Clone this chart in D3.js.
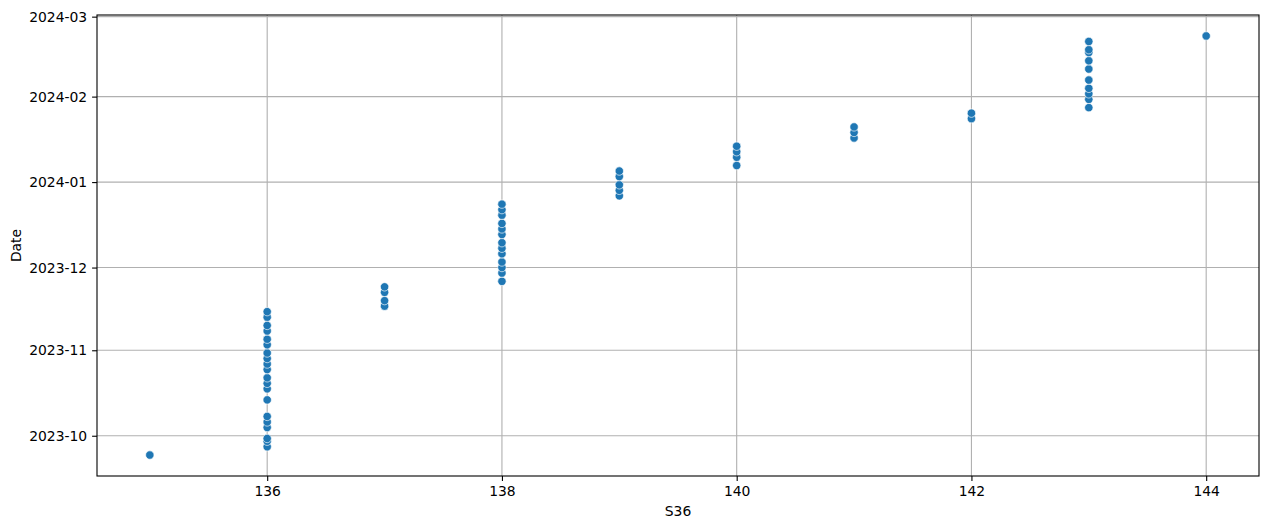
<!DOCTYPE html>
<html>
<head>
<meta charset="utf-8">
<script src="https://cdn.jsdelivr.net/npm/d3@7"></script>
<style>
  body { margin: 0; background: #fff; }
  svg text { font-family: "DejaVu Sans", sans-serif; font-size: 13.9px; fill: #000; }
</style>
</head>
<body>
<svg id="chart" width="1269" height="529"></svg>
<script>
// data: S36 value and matching dates, one list per S36 value
var s36Values = [135, 136, 137, 138, 139, 140, 141, 142, 143, 144];
var datesBySeries = [
    ["2023-09-24"],
    ["2023-09-27", "2023-09-29", "2023-09-30", "2023-10-04", "2023-10-06", "2023-10-08",
     "2023-10-14", "2023-10-18", "2023-10-20", "2023-10-22", "2023-10-25", "2023-10-27",
     "2023-10-29", "2023-10-31", "2023-11-03", "2023-11-05", "2023-11-08", "2023-11-10",
     "2023-11-13", "2023-11-15"],
    ["2023-11-17", "2023-11-19", "2023-11-22", "2023-11-24"],
    ["2023-11-26", "2023-11-29", "2023-12-01", "2023-12-03", "2023-12-06", "2023-12-08",
     "2023-12-10", "2023-12-13", "2023-12-15", "2023-12-17", "2023-12-20", "2023-12-22",
     "2023-12-24"],
    ["2023-12-27", "2023-12-29", "2023-12-31", "2024-01-03", "2024-01-05"],
    ["2024-01-07", "2024-01-10", "2024-01-12", "2024-01-14"],
    ["2024-01-17", "2024-01-19", "2024-01-21"],
    ["2024-01-24", "2024-01-26"],
    ["2024-01-28", "2024-01-31", "2024-02-02", "2024-02-04", "2024-02-07", "2024-02-11",
     "2024-02-14", "2024-02-17", "2024-02-18", "2024-02-21"],
    ["2024-02-23"]
];
var xTicks = [136, 138, 140, 142, 144];

var parseDate = d3.timeParse("%Y-%m-%d");
var points = [];
s36Values.forEach(function(v, i){
    datesBySeries[i].forEach(function(d){
        points.push({s36: v, date: parseDate(d)});
    });
});

// plot box
var boxLeft = 97, boxRight = 1259, boxTop = 15, boxBottom = 476;
var svg = d3.select("#chart");

// scales with matplotlib-like 5% margins
var xExt = d3.extent(points, function(d){ return d.s36; });
var xPad = (xExt[1] - xExt[0]) * 0.05;
var x = d3.scaleLinear()
    .domain([xExt[0] - xPad, xExt[1] + xPad])
    .range([boxLeft, boxRight]);

var yExt = d3.extent(points, function(d){ return d.date; });
var yPad = (yExt[1] - yExt[0]) * 0.05;
var y = d3.scaleTime()
    .domain([new Date(+yExt[0] - yPad), new Date(+yExt[1] + yPad)])
    .range([boxBottom, boxTop]);

var yTicks = d3.timeMonth.range(d3.timeMonth.ceil(y.domain()[0]), new Date(+y.domain()[1] + 1));

// grid
svg.append("g").selectAll("line")
    .data(xTicks)
    .enter()
    .append("line")
    .attr("x1", function(d){ return x(d); })
    .attr("x2", function(d){ return x(d); })
    .attr("y1", boxTop).attr("y2", boxBottom)
    .attr("stroke", "#b0b0b0").attr("stroke-width", 1.1);

svg.append("g").selectAll("line")
    .data(yTicks)
    .enter()
    .append("line")
    .attr("x1", boxLeft).attr("x2", boxRight)
    .attr("y1", function(d){ return y(d); })
    .attr("y2", function(d){ return y(d); })
    .attr("stroke", "#b0b0b0").attr("stroke-width", 1.1);

// axes
var xAxis = d3.axisBottom(x).tickValues(xTicks).tickSize(4.9).tickPadding(4.9).tickFormat(d3.format("d"));
var yAxis = d3.axisLeft(y).tickValues(yTicks).tickSize(4.9).tickPadding(4.9).tickFormat(d3.timeFormat("%Y-%m"));

var gx = svg.append("g").attr("transform", "translate(0," + boxBottom + ")").call(xAxis);
var gy = svg.append("g").attr("transform", "translate(" + boxLeft + ",0)").call(yAxis);
[gx, gy].forEach(function(g){
    g.select(".domain").remove();
    g.selectAll(".tick line").attr("stroke", "#000").attr("stroke-width", 1.1);
    g.selectAll(".tick text").style("font-size", "13.9px").style("font-family", "DejaVu Sans, sans-serif");
});

// points
svg.append("g").selectAll("circle")
    .data(points)
    .enter()
    .append("circle")
    .attr("cx", function(d){ return x(d.s36); })
    .attr("cy", function(d){ return y(d.date); })
    .attr("r", 4.2)
    .attr("fill", "#1f77b4")
    .attr("stroke", "#fff")
    .attr("stroke-width", 0.65);

// frame
svg.append("rect")
    .attr("x", boxLeft).attr("y", boxTop)
    .attr("width", boxRight - boxLeft).attr("height", boxBottom - boxTop)
    .attr("fill", "none").attr("stroke", "#000").attr("stroke-width", 1.1);

// axis labels
svg.append("text")
    .attr("x", (boxLeft + boxRight) / 2).attr("y", 516)
    .attr("text-anchor", "middle")
    .text("S36");

svg.append("text")
    .attr("transform", "translate(21," + ((boxTop + boxBottom) / 2) + ") rotate(-90)")
    .attr("text-anchor", "middle")
    .text("Date");
</script>
</body>
</html>
